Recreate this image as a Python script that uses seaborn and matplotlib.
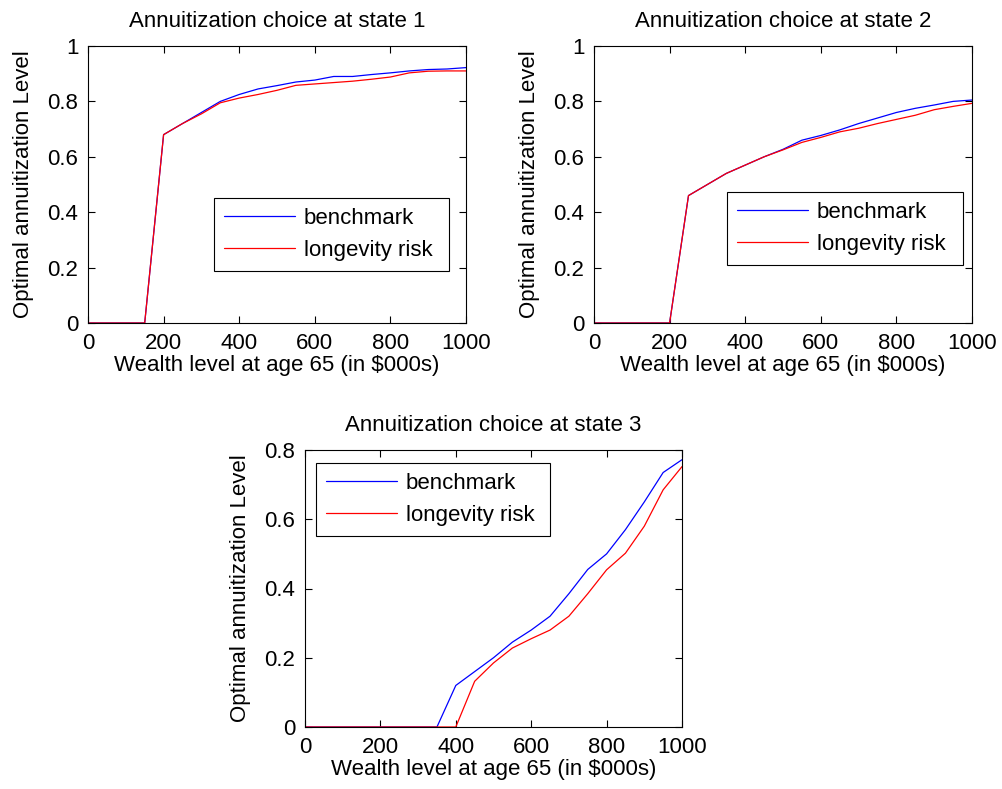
import numpy as np
import pandas as pd
import matplotlib
matplotlib.use("Agg")
import matplotlib.pyplot as plt
from matplotlib.ticker import FuncFormatter
import seaborn as sns

wealth = [0, 50, 100, 150, 200, 250, 300, 350, 400, 450, 500,
          550, 600, 650, 700, 750, 800, 850, 900, 950, 1000]

bench_s1 = [0, 0, 0, 0, 0.68, 0.72, 0.76, 0.80, 0.825, 0.845, 0.857,
            0.87, 0.877, 0.89, 0.89, 0.897, 0.903, 0.91, 0.915, 0.917, 0.922]
longev_s1 = [0, 0, 0, 0, 0.68, 0.72, 0.755, 0.795, 0.812, 0.825, 0.84,
             0.858, 0.863, 0.868, 0.873, 0.88, 0.888, 0.903, 0.909, 0.91, 0.91]

bench_s2 = [0, 0, 0, 0, 0, 0.46, 0.50, 0.54, 0.57, 0.60, 0.627,
            0.66, 0.677, 0.697, 0.72, 0.74, 0.76, 0.775, 0.787, 0.80, 0.805]
longev_s2 = [0, 0, 0, 0, 0, 0.46, 0.50, 0.54, 0.57, 0.60, 0.625,
             0.652, 0.67, 0.69, 0.703, 0.72, 0.735, 0.75, 0.77, 0.782, 0.793]

bench_s3 = [0, 0, 0, 0, 0, 0, 0, 0, 0.12, 0.16, 0.20,
            0.245, 0.28, 0.32, 0.385, 0.455, 0.50, 0.57, 0.65, 0.735, 0.772]
longev_s3 = [0, 0, 0, 0, 0, 0, 0, 0, 0, 0.132, 0.185,
             0.228, 0.255, 0.28, 0.32, 0.385, 0.454, 0.502, 0.58, 0.685, 0.752]

series_names = ["benchmark", "longevity risk"]
titles = ["Annuitization choice at state 1",
          "Annuitization choice at state 2",
          "Annuitization choice at state 3"]
xlabel = "Wealth level at age 65 (in $000s)"
ylabel = "Optimal annuitization Level"

sns.set_style("ticks")
plt.rcParams["font.family"] = ["Liberation Sans", "DejaVu Sans"]
plt.rcParams["font.size"] = 16
plt.rcParams["text.color"] = "black"
plt.rcParams["axes.labelcolor"] = "black"

FS = 16

fig = plt.figure(figsize=(10.02, 7.89), dpi=100)
ax_rects = [
    [88 / 1002, 1 - 323 / 789, 378 / 1002, 277 / 789],
    [594 / 1002, 1 - 323 / 789, 378 / 1002, 277 / 789],
    [305 / 1002, 1 - 727 / 789, 377 / 1002, 277 / 789],
]
data = [(bench_s1, longev_s1), (bench_s2, longev_s2), (bench_s3, longev_s3)]
ylims = [(0, 1), (0, 1), (0, 0.8)]
legend_boxes = [
    (0.333, 0.184, 0.622, 0.267),
    (0.352, 0.206, 0.624, 0.267),
    (0.029, 0.686, 0.621, 0.267),
]

fmt = FuncFormatter(lambda v, p: "%g" % round(v, 6))

for i, rect in enumerate(ax_rects):
    ax = fig.add_axes(rect)
    b, l = data[i]
    df = pd.DataFrame({
        "wealth": wealth + wealth,
        "level": b + l,
        "series": [series_names[0]] * len(wealth) + [series_names[1]] * len(wealth),
    })
    sns.lineplot(data=df, x="wealth", y="level", hue="series",
                 palette={"benchmark": "#0000ff", "longevity risk": "#ff0000"},
                 linewidth=0.9, ax=ax, legend=True, estimator=None, sort=False)
    ax.set_xlim(0, 1000)
    ax.set_ylim(*ylims[i])
    ax.set_xticks([0, 200, 400, 600, 800, 1000])
    ax.set_yticks(np.arange(0, ylims[i][1] + 0.01, 0.2))
    ax.xaxis.set_major_formatter(fmt)
    ax.yaxis.set_major_formatter(fmt)
    ax.tick_params(direction="in", top=True, right=True, length=5,
                   width=0.8, labelsize=FS, colors="black", pad=7)
    for s in ax.spines.values():
        s.set_visible(True)
        s.set_color("black")
        s.set_linewidth(0.8)
    ax.set_title(titles[i], fontsize=FS, pad=14, color="black")
    ax.set_xlabel(xlabel, fontsize=FS, labelpad=1)
    ax.set_ylabel(ylabel, fontsize=FS, labelpad=10)
    leg = ax.legend(loc="upper left", bbox_to_anchor=legend_boxes[i],
                    mode="expand", borderaxespad=0, fontsize=FS,
                    handlelength=3.2, handletextpad=0.4, labelspacing=0.5,
                    borderpad=0.45, frameon=True, fancybox=False)
    leg.get_frame().set_edgecolor("black")
    leg.get_frame().set_linewidth(0.8)
    leg.get_frame().set_alpha(1)
    for t in leg.get_texts():
        t.set_color("black")

fig.savefig("out.png", dpi=100)
